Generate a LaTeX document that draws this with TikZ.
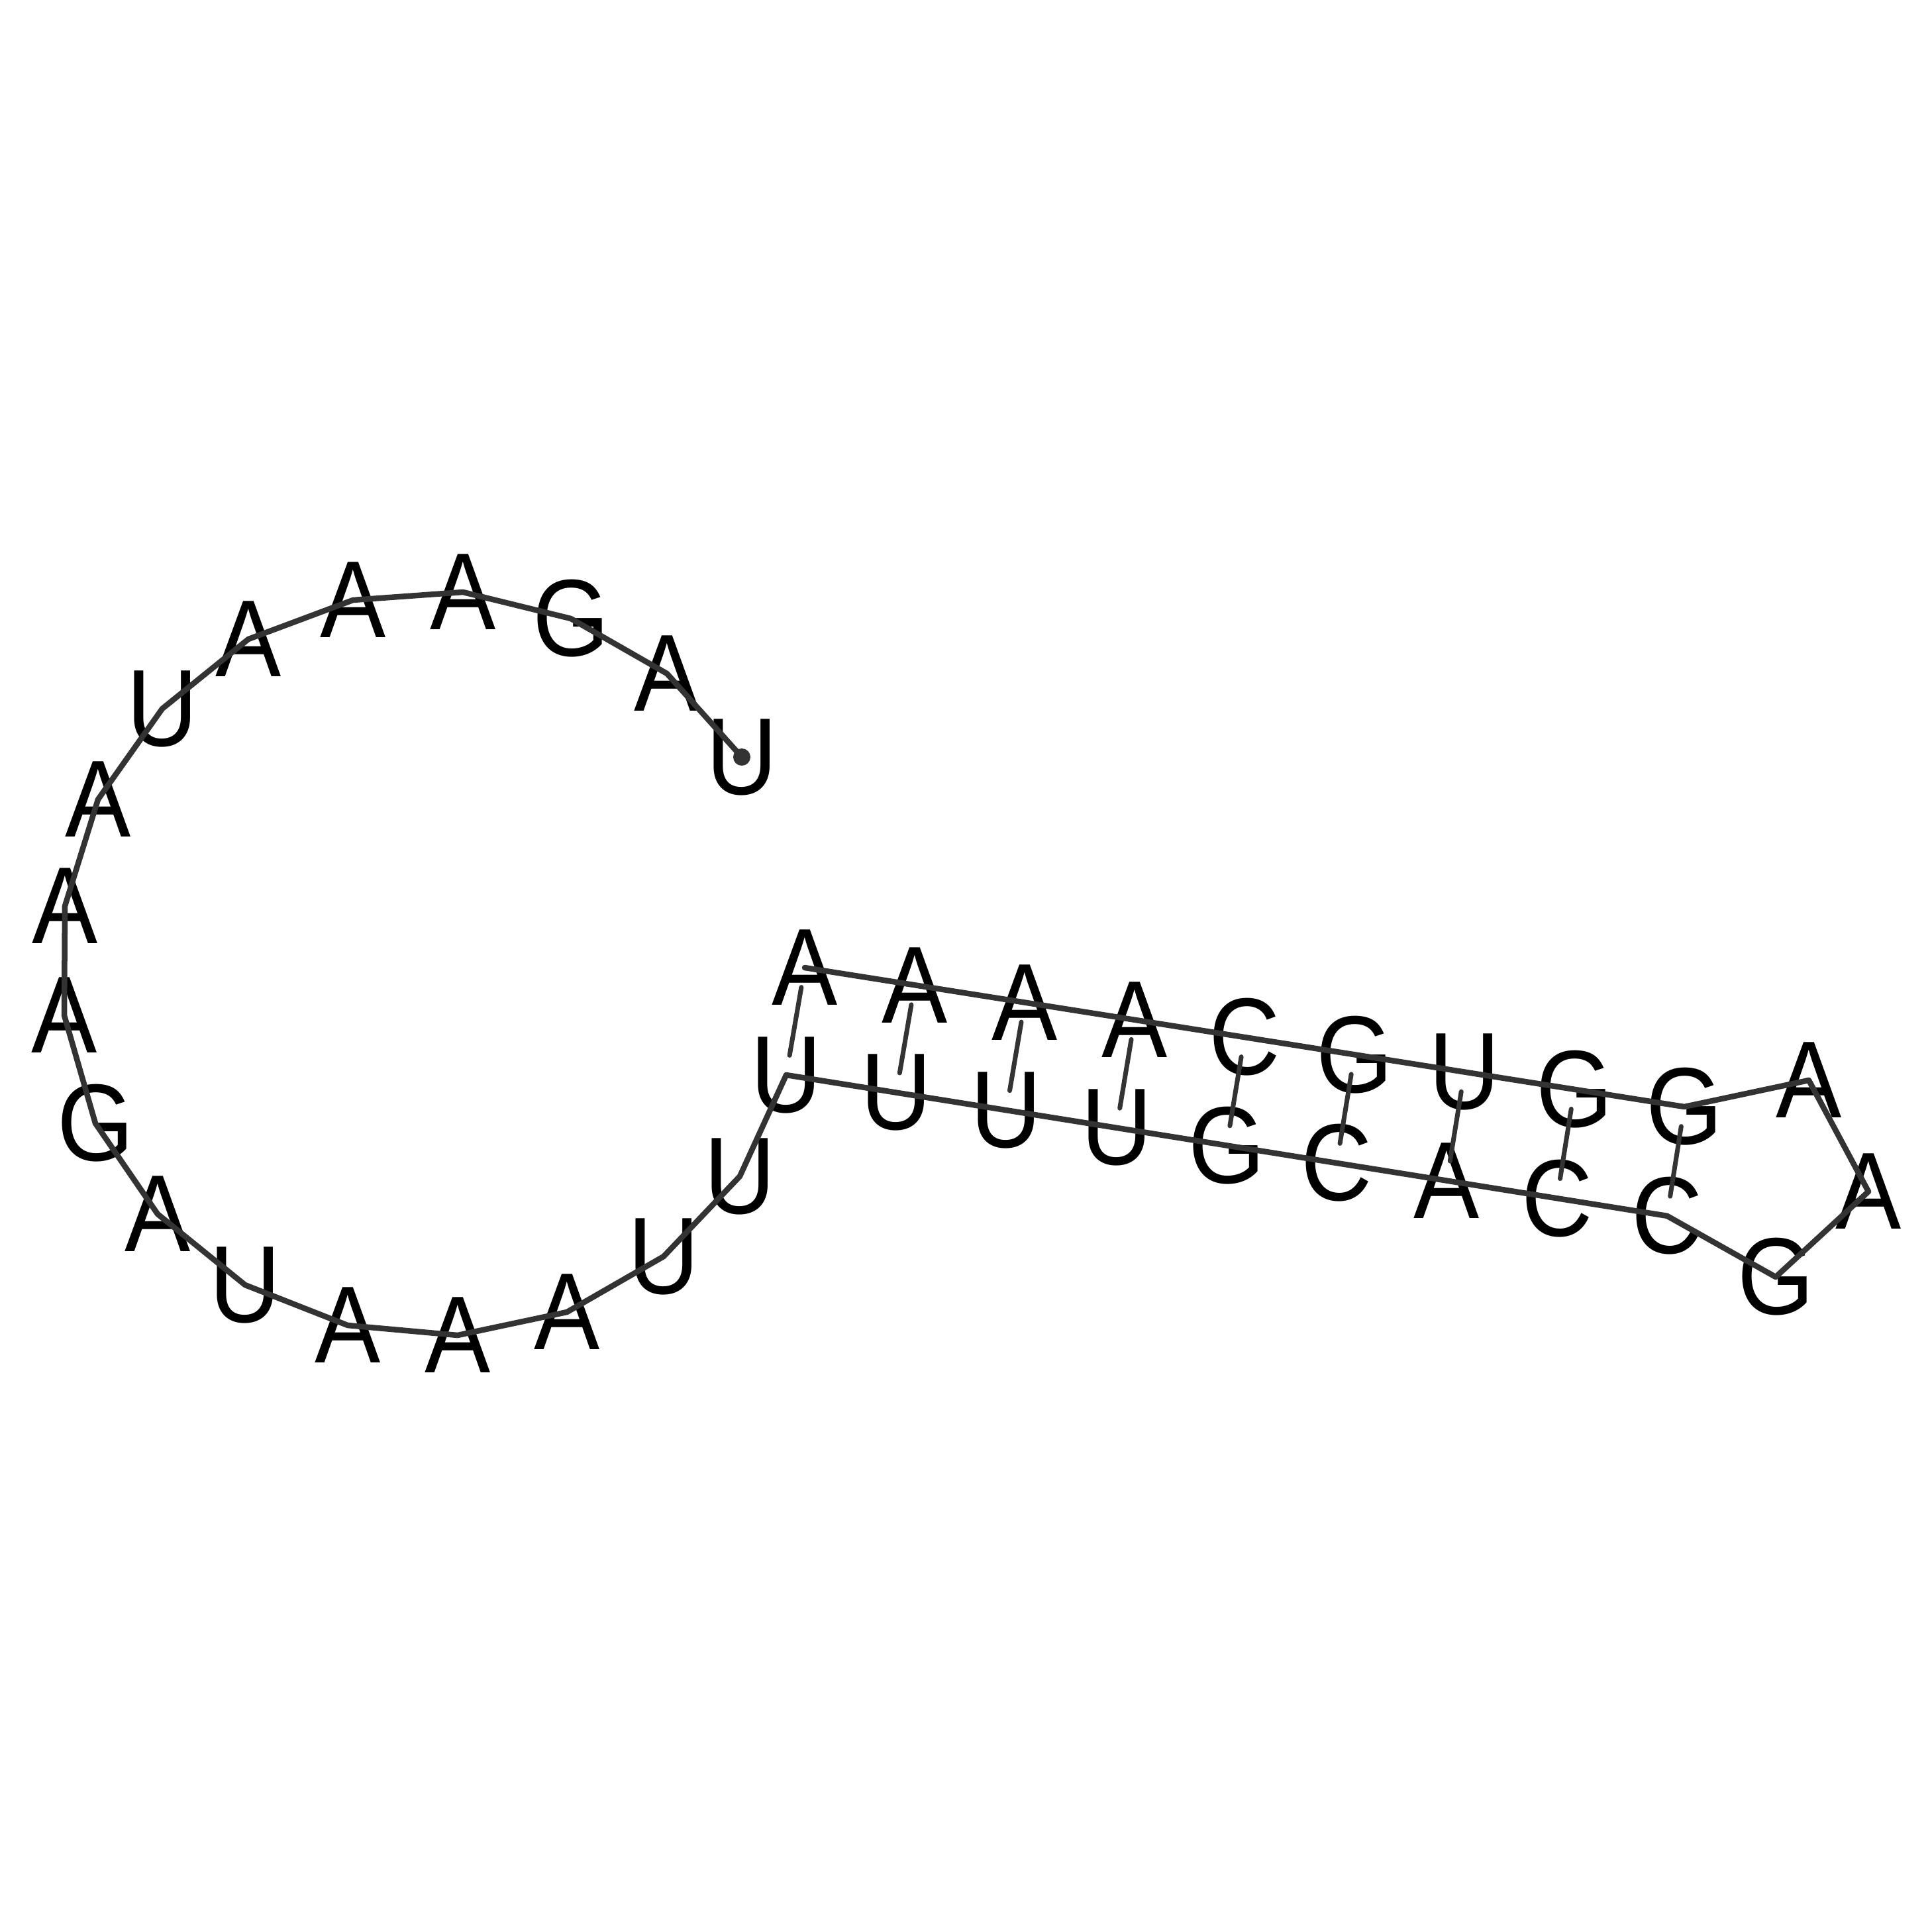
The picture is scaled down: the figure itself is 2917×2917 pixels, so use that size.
\documentclass[tikz,border=0pt]{standalone}
\usepackage{fontspec}
\usepackage{tikz}
\newfontfamily\ntfont[FakeStretch=0.9]{Liberation Sans}
\definecolor{backbonegray}{HTML}{333333}
\tikzstyle{base} = [inner sep=0pt, text=black, font=\ntfont\fontsize{47pt}{56pt}\selectfont]
\tikzstyle{backbone} = [line width=0.085cm, draw=backbonegray, line join=round, line cap=round]
\tikzstyle{pair} = [line width=0.07cm, draw=backbonegray, line cap=round, shorten >=0.3cm, shorten <=0.3cm]

\begin{document}
\begin{tikzpicture}[x=0.01cm, y=-0.01cm]
    \path[use as bounding box, fill=white] (0,0) rectangle (2917,2917);

    % Open loop
    \foreach \px/\py/\b [count=\k] in {1120/1143/U, 1007/1017/A, 862/934/G, 699/894/A, 533/906/A, 375/965/A, 245/1070/U, 148/1207/A, 98/1368/A, 97/1533/A, 144/1696/G, 238/1833/A, 370/1940/U, 525/2001/A, 691/2016/A, 856/1981/A, 1002/1897/U, 1117/1776/U}
        \node[base] (nt\k) at (\px,\py) {\b};

    % Stem, lower strand
    \foreach \b [count=\k from 19] in {U,U,U,U,G,C,A,C,C}
        \node[base] (nt\k) at ({1187+166.25*(\k-19)},{1623+26.6*(\k-19)}) {\b};

    % Hairpin
    \node[base] (nt28) at (2681,1928) {G};
    \node[base] (nt29) at (2821,1799) {A};
    \node[base] (nt30) at (2731,1631) {A};

    % Stem, upper strand
    \foreach \b [count=\k from 31] in {G,G,U,G,C,A,A,A,A}
        \node[base] (nt\k) at ({1215+166*(39-\k)},{1461+26.25*(39-\k)}) {\b};

    % Base pairs
    \foreach \k in {19,...,27} {
        \pgfmathtruncatemacro\m{58-\k}
        \draw[pair] (nt\m.center) -- (nt\k.center);
    }

    % Backbone
    \draw[backbone] (nt1.center) \foreach \k in {2,...,39} { -- (nt\k.center) };
    \fill[backbonegray] (nt1.center) circle (0.13cm);
\end{tikzpicture}
\end{document}
